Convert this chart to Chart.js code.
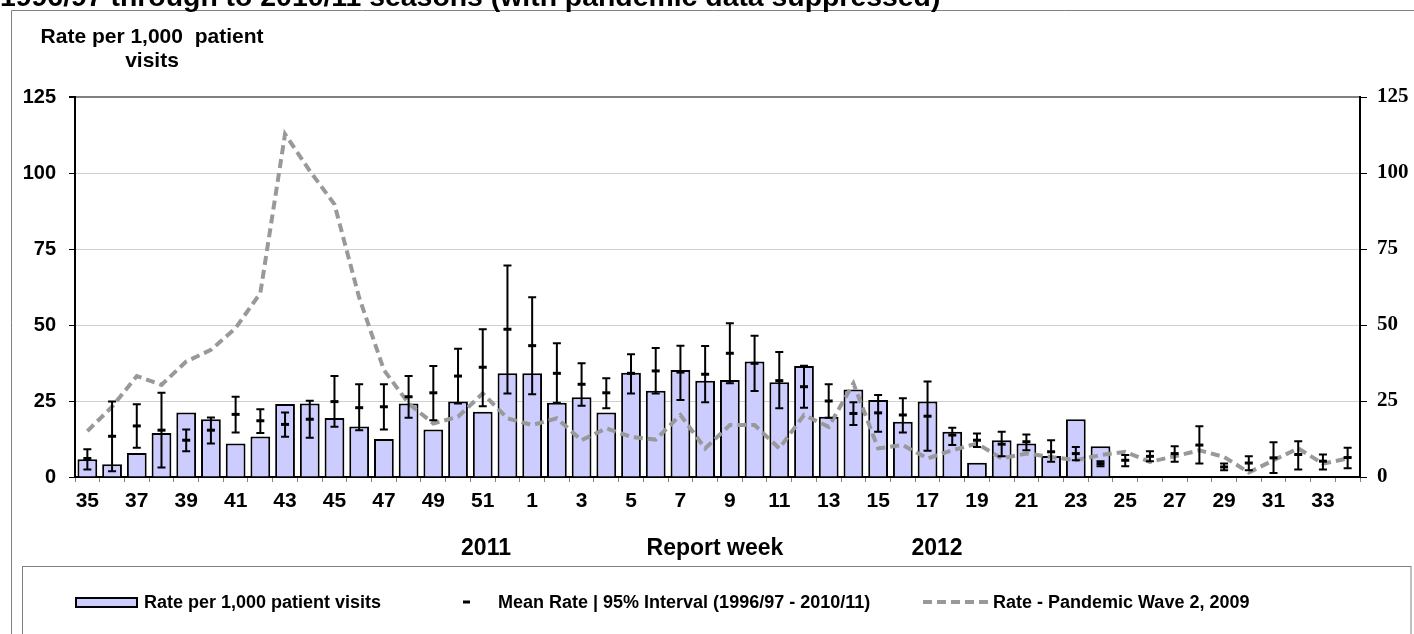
<!DOCTYPE html>
<html lang="en">
<head>
  <meta charset="UTF-8" />
  <title>Rate per 1,000 patient visits by report week</title>
  <script src="https://cdn.jsdelivr.net/npm/chart.js"></script>
  <style>
    body {
      margin: 0;
      background: #ffffff;
      overflow: hidden;
    }
    #chart {
      position: absolute;
      left: 0;
      top: 0;
    }
  </style>
</head>
<body>
<canvas id="chart" width="1414" height="634"></canvas>

<script>
  // Report weeks: 35..52 of 2011, then 1..34 of 2012
  const weeks = [35, 36, 37, 38, 39, 40, 41, 42, 43, 44, 45, 46, 47, 48, 49, 50, 51, 52,
    1, 2, 3, 4, 5, 6, 7, 8, 9, 10, 11, 12, 13, 14, 15, 16, 17, 18, 19, 20, 21, 22, 23, 24,
    25, 26, 27, 28, 29, 30, 31, 32, 33, 34];

  // Current season rate per 1,000 patient visits (no data after week 24)
  const rate = [5.8, 4.2, 7.9, 14.5, 21.2, 19.0, 11.0, 13.3, 24.0, 24.2, 19.4, 16.6, 12.5, 24.2, 15.6, 24.8, 21.5, 34.1,
    34.1, 24.4, 26.2, 21.2, 34.3, 28.4, 35.2, 31.7, 31.9, 38.0, 31.2, 36.5, 19.8, 28.8, 25.3, 18.2, 24.8, 14.9, 4.7, 12.1, 11.0, 6.9, 19.0, 10.1,
    null, null, null, null, null, null, null, null, null, null];

  // Mean rate 1996/97 - 2010/11 and its 95% interval
  const meanRate = [6.1, 13.4, 16.8, 15.4, 12.1, 15.4, 20.6, 18.5, 17.3, 19.0, 24.8, 22.8, 23.1, 26.4, 27.7, 33.2, 36.1, 48.6,
    43.2, 34.1, 30.5, 27.7, 34.1, 34.9, 34.5, 33.8, 40.7, 37.4, 31.7, 29.7, 25.0, 20.9, 21.1, 20.4, 20.0, 13.8, 12.1, 10.8, 11.6, 8.3, 7.7, 4.4,
    5.5, 6.8, 7.7, 10.5, 3.3, 4.6, 6.3, 7.4, 5.2, 6.4];
  const upper95 = [9.1, 24.8, 23.9, 27.7, 15.6, 19.6, 26.4, 22.3, 21.2, 25.1, 33.2, 30.5, 30.5, 33.2, 36.5, 42.2, 48.6, 69.6,
    59.1, 44.0, 37.4, 32.5, 40.4, 42.4, 43.2, 43.1, 50.6, 46.5, 41.1, 36.6, 30.5, 24.6, 27.0, 25.9, 31.4, 16.2, 14.3, 14.9, 14.0, 12.1, 9.9, 5.2,
    7.2, 8.5, 10.1, 16.7, 4.4, 6.8, 11.4, 11.8, 7.4, 9.6];
  const lower95 = [2.5, 1.9, 9.6, 3.1, 8.5, 11.0, 14.6, 14.5, 13.2, 12.9, 16.5, 15.4, 15.6, 19.5, 18.7, 24.2, 23.3, 27.5,
    27.2, 24.4, 23.4, 22.6, 27.5, 27.5, 25.3, 24.6, 30.8, 28.3, 22.6, 22.8, 19.5, 17.1, 14.9, 14.6, 8.6, 10.5, 9.9, 6.8, 8.8, 5.0, 5.5, 3.5,
    3.5, 5.2, 5.0, 4.4, 2.2, 2.2, 1.3, 2.5, 2.5, 2.9];

  // Pandemic wave 2, 2009
  const pandemic = [15.1, 23.1, 33.2, 30.3, 38.0, 41.8, 49.0, 60.5, 112.8, 100.7, 89.7, 59.0, 35.2, 24.2, 17.6, 19.8, 27.5, 19.3,
    17.1, 19.3, 12.1, 16.0, 13.2, 12.3, 20.4, 9.4, 17.1, 17.1, 9.4, 20.4, 16.5, 30.8, 9.4, 10.5, 6.1, 8.8, 11.0, 6.1, 7.7, 6.6, 5.5, 7.2,
    8.3, 5.0, 6.8, 8.8, 6.6, 1.5, 5.5, 9.4, 4.4, 6.1];

  const yTicks = [0, 25, 50, 75, 100, 125];

  const SANS = '"Liberation Sans", Arial, sans-serif';
  const SERIF = '"Liberation Serif", "Times New Roman", serif';

  // error bars: mean tick plus 95% interval with caps
  const errorBars = {
    id: 'errorBars',
    afterDatasetsDraw(chart) {
      const ctx = chart.ctx;
      const xs = chart.scales.x, ys = chart.scales.y;
      ctx.save();
      ctx.strokeStyle = '#000';
      for (let i = 0; i < weeks.length; i++) {
        const x = xs.getPixelForValue(i);
        const yu = ys.getPixelForValue(upper95[i]);
        const yl = ys.getPixelForValue(lower95[i]);
        const ym = ys.getPixelForValue(meanRate[i]);
        ctx.lineWidth = 2;
        ctx.beginPath();
        ctx.moveTo(x, yu); ctx.lineTo(x, yl);
        ctx.moveTo(x - 4, yu); ctx.lineTo(x + 4, yu);
        ctx.moveTo(x - 4, yl); ctx.lineTo(x + 4, yl);
        ctx.stroke();
        ctx.lineWidth = 3;
        ctx.beginPath();
        ctx.moveTo(x - 4, ym); ctx.lineTo(x + 4, ym);
        ctx.stroke();
      }
      ctx.restore();
    }
  };

  // titles, frame and the boxed legend
  const decorations = {
    id: 'decorations',
    afterDraw(chart) {
      const ctx = chart.ctx;
      ctx.save();

      // outer frame
      ctx.strokeStyle = '#808080';
      ctx.lineWidth = 1;
      ctx.beginPath();
      ctx.moveTo(11.5, 640); ctx.lineTo(11.5, 10.5); ctx.lineTo(1420, 10.5);
      ctx.stroke();

      // main title, mostly cut off at the top
      const title = '1996/97 through to 2010/11 seasons (with pandemic data suppressed)';
      ctx.fillStyle = '#000';
      ctx.font = 'bold 100px ' + SANS;
      const size = 100 * 940 / ctx.measureText(title).width;
      ctx.font = 'bold ' + size.toFixed(1) + 'px ' + SANS;
      ctx.textAlign = 'left';
      ctx.textBaseline = 'alphabetic';
      ctx.fillText(title, 0, 6);

      // y axis title
      ctx.font = 'bold 21px ' + SANS;
      ctx.textAlign = 'center';
      ctx.fillText('Rate per 1,000  patient', 152, 43);
      ctx.fillText('visits', 152, 67);

      // x axis titles
      ctx.font = 'bold 23px ' + SANS;
      ctx.fillText('2011', 486, 555);
      ctx.fillText('Report week', 715, 555);
      ctx.fillText('2012', 937, 555);

      // legend box
      ctx.strokeStyle = '#808080';
      ctx.lineWidth = 1;
      ctx.strokeRect(22.5, 566.5, 1388.5, 100);

      ctx.font = 'bold 18px ' + SANS;
      ctx.textAlign = 'left';
      ctx.fillStyle = '#ccccff';
      ctx.fillRect(76, 598, 61, 9);
      ctx.strokeStyle = '#000';
      ctx.lineWidth = 2;
      ctx.strokeRect(76, 598, 61, 9);
      ctx.fillStyle = '#000';
      ctx.fillText('Rate per 1,000 patient visits', 144, 608);

      ctx.lineWidth = 3;
      ctx.beginPath();
      ctx.moveTo(463, 602); ctx.lineTo(470, 602);
      ctx.stroke();
      ctx.fillText('Mean Rate | 95% Interval (1996/97 - 2010/11)', 498, 608);

      ctx.strokeStyle = '#999999';
      ctx.lineWidth = 4;
      ctx.setLineDash([9, 5]);
      ctx.beginPath();
      ctx.moveTo(923, 602); ctx.lineTo(988, 602);
      ctx.stroke();
      ctx.setLineDash([]);
      ctx.fillText('Rate - Pandemic Wave 2, 2009', 993, 608);

      ctx.restore();
    }
  };

  new Chart(document.getElementById('chart'), {
    type: 'bar',
    data: {
      labels: weeks.map(String),
      datasets: [
        {
          type: 'line',
          label: 'Rate - Pandemic Wave 2, 2009',
          data: pandemic,
          borderColor: '#999999',
          borderWidth: 4,
          borderDash: [9, 5],
          pointRadius: 0,
          tension: 0,
          fill: false,
          order: 0
        },
        {
          label: 'Rate per 1,000 patient visits',
          data: rate,
          backgroundColor: '#ccccff',
          borderColor: '#000000',
          borderWidth: 2,
          categoryPercentage: 1,
          barPercentage: 0.8,
          order: 1
        }
      ]
    },
    options: {
      responsive: false,
      animation: false,
      devicePixelRatio: 1,
      layout: { padding: { top: 97, left: 0, right: 0, bottom: 0 } },
      plugins: {
        legend: { display: false },
        tooltip: { enabled: false }
      },
      scales: {
        x: {
          offset: true,
          afterFit(scale) { scale.height = 157; },
          grid: {
            offset: true,
            drawOnChartArea: false,
            drawTicks: true,
            tickLength: 5,
            tickColor: '#808080'
          },
          border: { color: '#000', width: 2 },
          ticks: {
            autoSkip: false,
            maxRotation: 0,
            padding: 7,
            color: '#000',
            font: { family: SANS, size: 21, weight: 'bold' },
            callback: (v, i) => (i % 2 === 0 ? String(weeks[i]) : '')
          }
        },
        y: {
          position: 'left',
          min: 0,
          max: 125,
          afterFit(scale) { scale.width = 75; },
          afterBuildTicks(scale) { scale.ticks = yTicks.map(v => ({ value: v })); },
          grid: {
            color: ctx => (ctx.tick && ctx.tick.value === 125 ? '#808080' : '#d0d0d0'),
            lineWidth: ctx => (ctx.tick && ctx.tick.value === 125 ? 2 : 1),
            tickLength: 6,
            tickColor: '#000'
          },
          border: { color: '#000', width: 2 },
          ticks: {
            padding: 13,
            color: '#000',
            font: { family: SANS, size: 20, weight: 'bold' }
          }
        },
        y2: {
          position: 'right',
          min: 0,
          max: 125,
          afterFit(scale) { scale.width = 54; },
          afterBuildTicks(scale) { scale.ticks = yTicks.map(v => ({ value: v })); },
          grid: {
            drawOnChartArea: false,
            tickLength: 7,
            tickColor: '#000'
          },
          border: { color: '#000', width: 2 },
          ticks: {
            padding: 10,
            color: '#000',
            font: { family: SERIF, size: 21, weight: 'bold' }
          }
        }
      }
    },
    plugins: [errorBars, decorations]
  });
</script>
</body>
</html>
